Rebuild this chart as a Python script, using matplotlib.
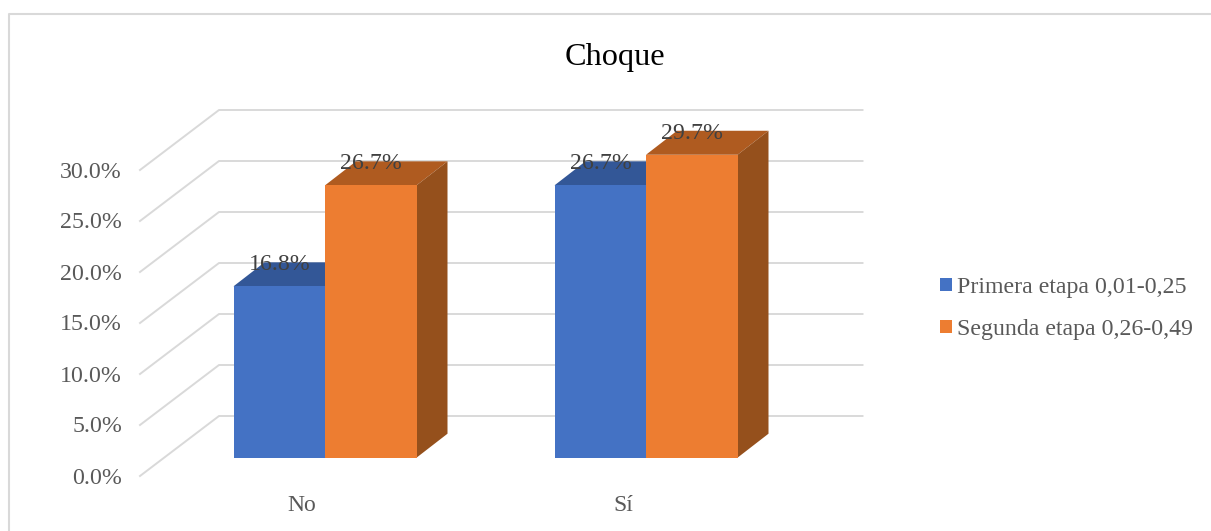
# coding=utf-8
import matplotlib
matplotlib.use('Agg')
import matplotlib.pyplot as plt
import numpy as np
from matplotlib.lines import Line2D
from matplotlib.patches import Polygon, Patch

plt.rcParams['font.family'] = ['Liberation Serif', 'DejaVu Serif']

categories = ['No', 'Sí']
primera = [16.8, 26.7]
segunda = [26.7, 29.7]
series_names = ['Primera etapa 0,01-0,25', 'Segunda etapa 0,26-0,49']
y_ticks = [0, 5, 10, 15, 20, 25, 30]

W, H = 1211, 531
# one category = 321 px, one percent = 10.2 px, bar floor at py 457.7, first group at px 325
PX_X = 321.0
PX_Y = 10.2


def dx(px):
    return px / PX_X


def dy(px):
    return px / PX_Y


fig = plt.figure(figsize=(W / 100, H / 100), dpi=100)
ax = fig.add_axes([0, 0, 1, 1])
ax.set_xlim(-325 / PX_X, (W - 325) / PX_X)
ax.set_ylim(-(H - 457.7) / PX_Y, 457.7 / PX_Y)
ax.axis('off')

bar_w = dx(91.5)
depth_x = dx(31)
depth_y = dy(24)
colors = ['#4472C4', '#ED7D31']
top_colors = ['#335797', '#AF5B20']
side_colors = ['#33558F', '#95501C']

# outer frame of the chart
frame = '#D9D9D9'
fig.add_artist(Line2D([9 / W, 9 / W, 1], [0, 1 - 14 / H, 1 - 14 / H], color=frame, lw=1.5))

# walls: grid on the back wall, diagonals on the side wall
grid_left = dx(219 - 325)
grid_right = dx(862.5 - 325)
wall_left = dx(140 - 325)
back_off = dy(457.7 - 416)
front_off = dy(457.7 - 476)
for t in y_ticks:
    ax.plot([wall_left, grid_left, grid_right], [t + front_off, t + back_off, t + back_off],
            color=frame, lw=1.4, zorder=1)
    ax.text(dx(122 - 325), t + front_off - dy(2), '%.1f%%' % t, ha='right', va='center',
            fontsize=17.2, color='#595959')


def draw_bar(x, val, i):
    ax.add_patch(Polygon([[x, val], [x + depth_x, val + depth_y], [x + bar_w + depth_x, val + depth_y], [x + bar_w, val]],
                         closed=True, fc=top_colors[i], ec='none', zorder=3))
    ax.add_patch(Polygon([[x + bar_w, 0], [x + bar_w + depth_x, depth_y], [x + bar_w + depth_x, val + depth_y], [x + bar_w, val]],
                         closed=True, fc=side_colors[i], ec='none', zorder=3))
    ax.add_patch(Polygon([[x, 0], [x + bar_w, 0], [x + bar_w, val], [x, val]],
                         closed=True, fc=colors[i], ec='none', zorder=3))


for k in range(len(categories)):
    for i, vals in enumerate([primera, segunda]):
        x = k - bar_w + i * bar_w
        draw_bar(x, vals[k], i)
        ax.text(x + bar_w / 2 + dx(0.5), vals[k] + dy(21.5), '%.1f%%' % vals[k], ha='center', va='center',
                fontsize=17.2, color='#404040', zorder=5)
    ax.text(k - dx(23), -dy(47.5), categories[k], ha='center', va='center',
            fontsize=17, color='#595959')

ax.text(dx(615 - 325), dy(457.7 - 57), 'Choque', ha='center', va='center', fontsize=23.2, color='black')

handles = [Patch(fc=colors[0], ec='none'), Patch(fc=colors[1], ec='none')]
leg = ax.legend(handles, series_names, loc='center left', bbox_to_anchor=(940 / W, 1 - 308.5 / H),
                bbox_transform=fig.transFigure, frameon=False, fontsize=17.2, labelcolor='#595959',
                handlelength=0.5, handleheight=0.5, handletextpad=0.22, labelspacing=0.87,
                borderpad=0, borderaxespad=0)

fig.savefig('out.png', dpi=100)
